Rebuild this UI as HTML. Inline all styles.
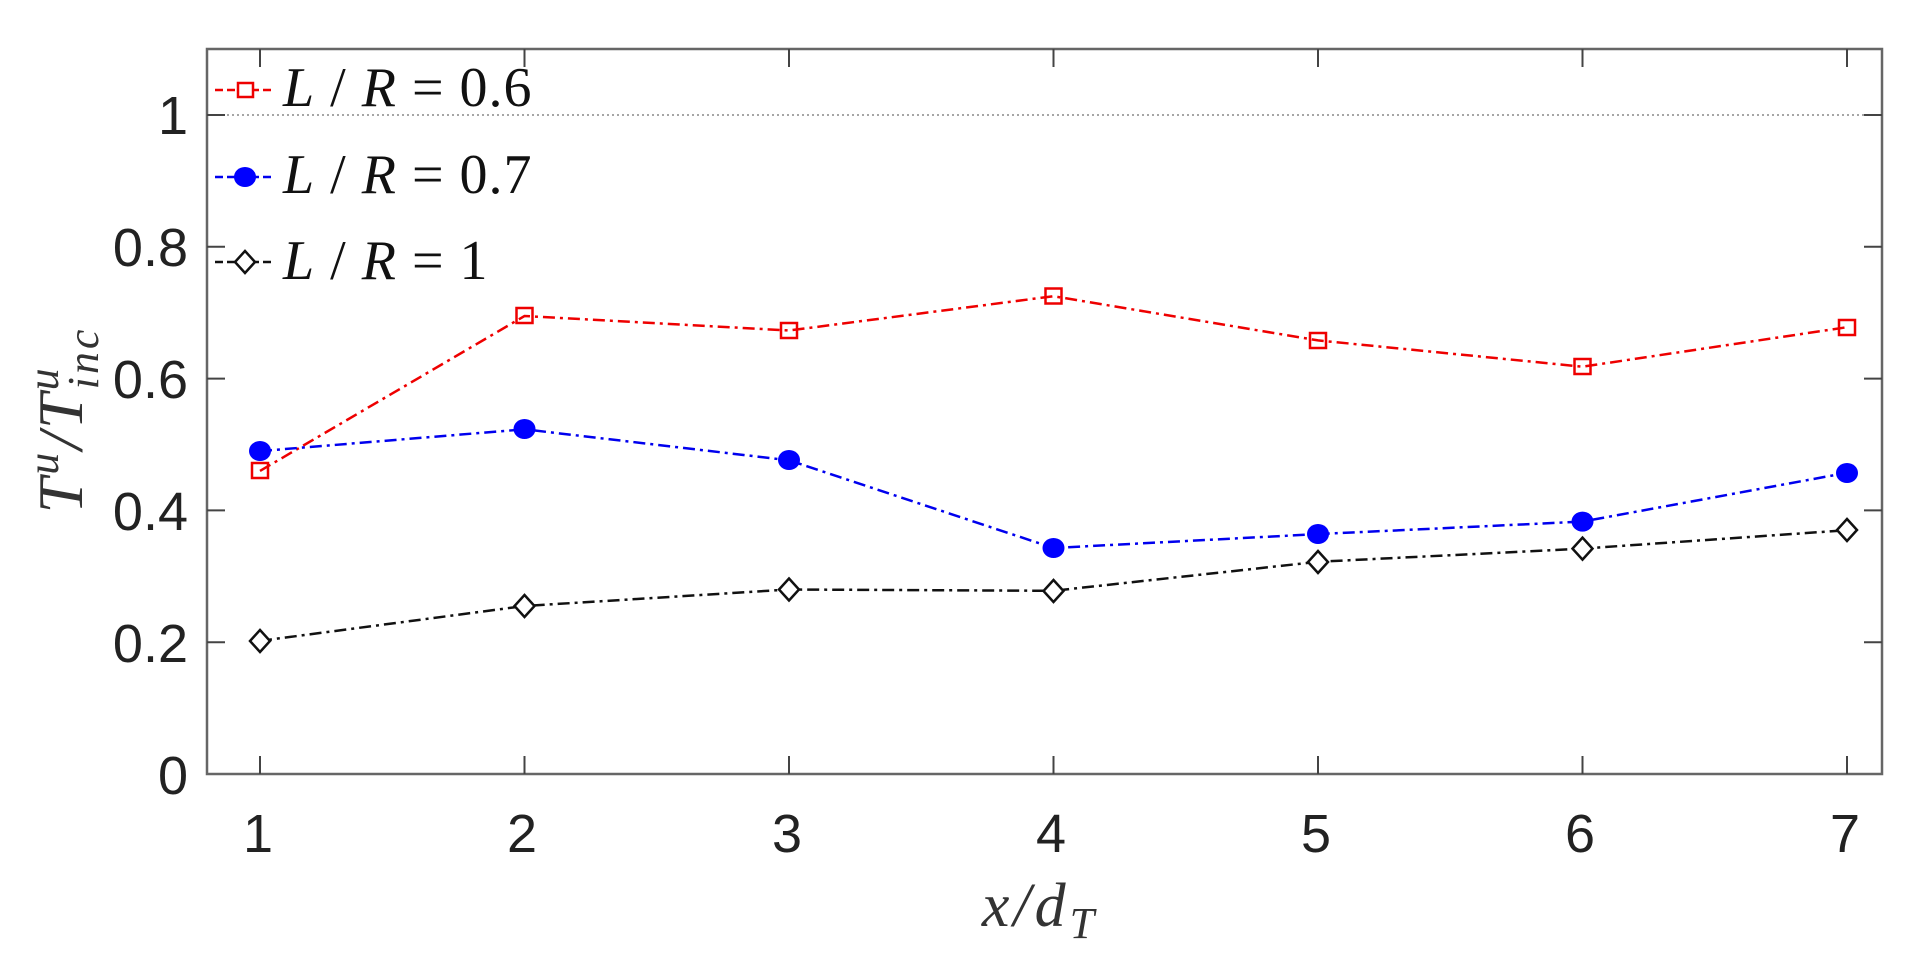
<!DOCTYPE html>
<html><head><meta charset="utf-8"><style>html,body{margin:0;padding:0;background:#fff;}svg{display:block}</style></head>
<body>
<svg width="1924" height="964" viewBox="0 0 1924 964" xmlns="http://www.w3.org/2000/svg">
<rect width="1924" height="964" fill="#fff"/>
<line x1="207" y1="115" x2="1882" y2="115" stroke="#888" stroke-width="1.5" stroke-dasharray="2,3"/>
<rect x="207" y="49" width="1675" height="725" fill="none" stroke="#666" stroke-width="2.5"/>
<g stroke="#444" stroke-width="2">
<line x1="207" y1="642.2" x2="225" y2="642.2"/><line x1="1882" y1="642.2" x2="1864" y2="642.2"/>
<line x1="207" y1="510.4" x2="225" y2="510.4"/><line x1="1882" y1="510.4" x2="1864" y2="510.4"/>
<line x1="207" y1="378.6" x2="225" y2="378.6"/><line x1="1882" y1="378.6" x2="1864" y2="378.6"/>
<line x1="207" y1="246.8" x2="225" y2="246.8"/><line x1="1882" y1="246.8" x2="1864" y2="246.8"/>
<line x1="207" y1="115" x2="225" y2="115"/><line x1="1882" y1="115" x2="1864" y2="115"/>
<line x1="260" y1="774" x2="260" y2="756"/><line x1="260" y1="49" x2="260" y2="67"/>
<line x1="524.5" y1="774" x2="524.5" y2="756"/><line x1="524.5" y1="49" x2="524.5" y2="67"/>
<line x1="789" y1="774" x2="789" y2="756"/><line x1="789" y1="49" x2="789" y2="67"/>
<line x1="1053.5" y1="774" x2="1053.5" y2="756"/><line x1="1053.5" y1="49" x2="1053.5" y2="67"/>
<line x1="1318" y1="774" x2="1318" y2="756"/><line x1="1318" y1="49" x2="1318" y2="67"/>
<line x1="1582.5" y1="774" x2="1582.5" y2="756"/><line x1="1582.5" y1="49" x2="1582.5" y2="67"/>
<line x1="1847" y1="774" x2="1847" y2="756"/><line x1="1847" y1="49" x2="1847" y2="67"/>
</g>
<g font-family="Liberation Sans, sans-serif" font-size="54" fill="#222" text-anchor="end">
<text x="188" y="794">0</text><text x="188" y="662">0.2</text><text x="188" y="530">0.4</text>
<text x="188" y="398">0.6</text><text x="188" y="266">0.8</text><text x="188" y="134">1</text>
</g>
<g font-family="Liberation Sans, sans-serif" font-size="54" fill="#222" text-anchor="middle">
<text x="258" y="852">1</text><text x="522" y="852">2</text><text x="787" y="852">3</text><text x="1051" y="852">4</text>
<text x="1316" y="852">5</text><text x="1580" y="852">6</text><text x="1845" y="852">7</text>
</g>
<text x="1040" y="926" font-family="Liberation Serif, serif" font-style="italic" font-size="62" fill="#333" text-anchor="middle" letter-spacing="4">x/d<tspan font-size="44" dy="12">T</tspan></text>
<text transform="translate(82,420) rotate(-90)" font-family="Liberation Serif, serif" font-style="italic" font-size="64" fill="#333" text-anchor="middle" letter-spacing="3">T<tspan font-size="44" dy="-24">u</tspan><tspan dy="24">/T</tspan><tspan font-size="44" dy="-24">u</tspan><tspan font-size="44" dx="-24" dy="40">inc</tspan></text>
<polyline fill="none" stroke="#e00" stroke-width="2.5" stroke-dasharray="12,5,3,5" points="260,470.9 524.5,316 789,330.5 1053.5,296.2 1318,340.4 1582.5,366.7 1847,327.2"/>
<polyline fill="none" stroke="#00e" stroke-width="2.5" stroke-dasharray="12,5,3,5" points="260,451.1 524.5,429.3 789,460.3 1053.5,548 1318,534.1 1582.5,521.6 1847,472.8"/>
<polyline fill="none" stroke="#111" stroke-width="2.5" stroke-dasharray="12,5,3,5" points="260,640.9 524.5,606 789,589.5 1053.5,590.8 1318,561.8 1582.5,548.6 1847,530.2"/>
<g fill="none" stroke="#e00" stroke-width="2.5">
<rect x="252" y="463" width="16" height="15"/><rect x="516.5" y="308" width="16" height="15"/><rect x="781" y="323" width="16" height="15"/><rect x="1045.5" y="288.5" width="16" height="15"/><rect x="1310" y="333" width="16" height="15"/><rect x="1574.5" y="359" width="16" height="15"/><rect x="1839" y="320" width="16" height="15"/>
</g>
<g fill="#00f">
<ellipse cx="260" cy="451" rx="11" ry="10"/><ellipse cx="524.5" cy="429" rx="11" ry="10"/><ellipse cx="789" cy="460" rx="11" ry="10"/><ellipse cx="1053.5" cy="548" rx="11" ry="10"/><ellipse cx="1318" cy="534" rx="11" ry="10"/><ellipse cx="1582.5" cy="521.6" rx="11" ry="10"/><ellipse cx="1847" cy="473" rx="11" ry="10"/>
</g>
<g fill="#fff" stroke="#111" stroke-width="2.5">
<polygon points="260,630 270,641 260,652 250,641"/><polygon points="524.5,595 534.5,606 524.5,617 514.5,606"/><polygon points="789,578.5 799,589.5 789,600.5 779,589.5"/><polygon points="1053.5,580 1063.5,591 1053.5,602 1043.5,591"/><polygon points="1318,551 1328,562 1318,573 1308,562"/><polygon points="1582.5,537.6 1592.5,548.6 1582.5,559.6 1572.5,548.6"/><polygon points="1847,519 1857,530 1847,541 1837,530"/>
</g>
<line x1="215" y1="90" x2="275" y2="90" stroke="#e00" stroke-width="2.5" stroke-dasharray="8,4"/>
<rect x="238" y="83" width="15" height="14" fill="#fff" stroke="#e00" stroke-width="2.5"/>
<line x1="215" y1="177" x2="275" y2="177" stroke="#00e" stroke-width="2.5" stroke-dasharray="8,4"/>
<ellipse cx="245" cy="177" rx="11" ry="10" fill="#00f"/>
<line x1="215" y1="262" x2="275" y2="262" stroke="#111" stroke-width="2.5" stroke-dasharray="8,4"/>
<polygon points="245,251 255,262 245,273 235,262" fill="#fff" stroke="#111" stroke-width="2.5"/>
<g font-family="Liberation Serif, serif" font-size="56" fill="#111" letter-spacing="1">
<text x="283" y="106"><tspan font-style="italic">L</tspan> / <tspan font-style="italic">R</tspan> = 0.6</text>
<text x="283" y="193"><tspan font-style="italic">L</tspan> / <tspan font-style="italic">R</tspan> = 0.7</text>
<text x="283" y="279"><tspan font-style="italic">L</tspan> / <tspan font-style="italic">R</tspan> = 1</text>
</g>
</svg>
</body></html>
